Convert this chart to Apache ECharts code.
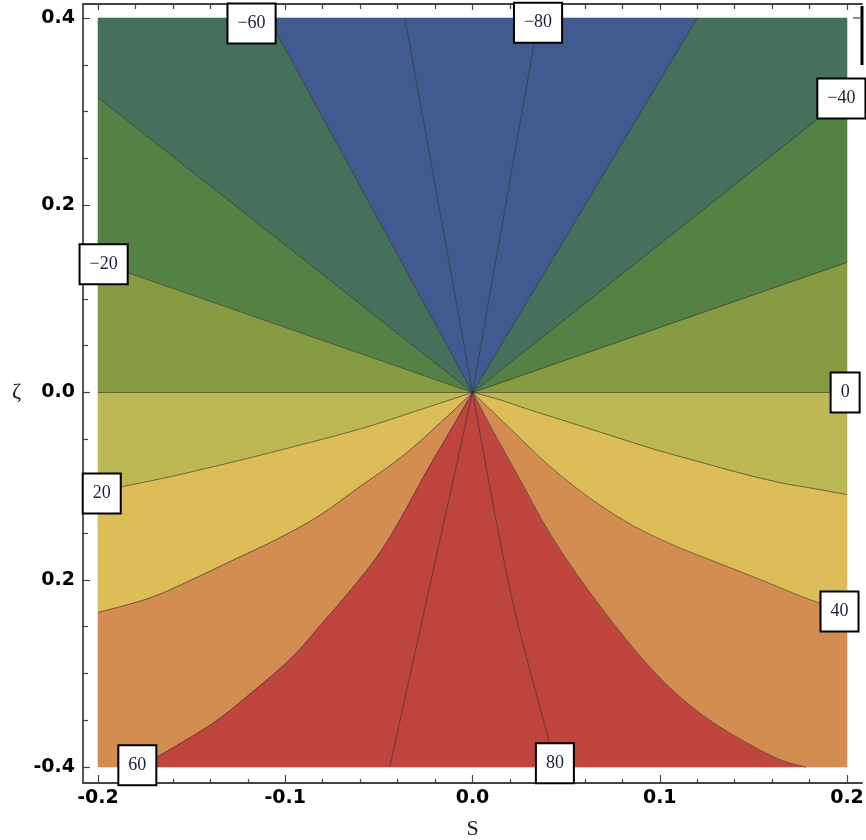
<!DOCTYPE html>
<html>
<head>
<meta charset="utf-8">
<script src="https://cdn.jsdelivr.net/npm/echarts@6/dist/echarts.min.js"></script>
<style>html,body{margin:0;padding:0;background:#fff}#main{width:866px;height:840px}</style>
</head>
<body>
<div id="main"></div>
<script>
// contour branches: origin -> plot edge, [S, zeta]
var lineM80L = [[0,0],[-0.0361,0.4]];
var lineM60L = [[0,0],[-0.109,0.4]];
var lineM40L = [[0,0],[-0.2,0.315]];
var lineM20L = [[0,0],[-0.2,0.139]];
var line0L   = [[0,0],[-0.2,0]];
var line20L  = [[0,0],[-0.0236,-0.0155],[-0.0593,-0.0385],[-0.0949,-0.0575],[-0.1306,-0.0755],[-0.1662,-0.092],[-0.2,-0.1055]];
var line40L  = [[0,0],[-0.0172,-0.0324],[-0.0374,-0.0681],[-0.0599,-0.1002],[-0.0824,-0.1323],[-0.1049,-0.1572],[-0.1274,-0.1786],[-0.1499,-0.2],[-0.1725,-0.2196],[-0.2,-0.235]];
var line60L  = [[0,0],[-0.0125,-0.043],[-0.025,-0.0859],[-0.0397,-0.1394],[-0.0509,-0.1751],[-0.0649,-0.2107],[-0.0802,-0.2463],[-0.0959,-0.282],[-0.1162,-0.3176],[-0.1387,-0.3533],[-0.168,-0.389],[-0.176,-0.4]];
var line80L  = [[0,0],[-0.0442,-0.4]];
var line80R  = [[0,0],[0.02,-0.2107],[0.0402,-0.3676],[0.0435,-0.4]];
var line60R  = [[0,0],[0.0115,-0.043],[0.0234,-0.0859],[0.038,-0.1394],[0.0492,-0.1751],[0.0616,-0.2107],[0.0751,-0.2463],[0.0897,-0.282],[0.1066,-0.3176],[0.1291,-0.3533],[0.1606,-0.389],[0.178,-0.4]];
var line40R  = [[0,0],[0.0188,-0.036],[0.0413,-0.0788],[0.0638,-0.1144],[0.0864,-0.143],[0.1089,-0.1644],[0.1314,-0.1822],[0.1539,-0.2],[0.1805,-0.2214],[0.2,-0.233]];
var line20R  = [[0,0],[0.0143,-0.0075],[0.0301,-0.0182],[0.0526,-0.0324],[0.0751,-0.0467],[0.0976,-0.061],[0.1201,-0.0734],[0.1426,-0.0859],[0.1651,-0.0966],[0.1805,-0.102],[0.2,-0.109]];
var line0R   = [[0,0],[0.2,0]];
var lineM20R = [[0,0],[0.2,0.139]];
var lineM40R = [[0,0],[0.2,0.317]];
var lineM60R = [[0,0],[0.12,0.4]];
var lineM80R = [[0,0],[0.0353,0.4]];

// branches going round counter-clockwise, with the plot corners that fall between them
var ring = [line0R, lineM20R, lineM40R, [[0.2,0.4]], lineM60R, lineM80R, lineM80L, lineM60L, [[-0.2,0.4]],
            lineM40L, lineM20L, line0L, line20L, line40L, [[-0.2,-0.4]], line60L, line80L, line80R, line60R, [[0.2,-0.4]],
            line40R, line20R];

var xTicks = ['-0.2','-0.1','0.0','0.1','0.2'];
var yTicks = ['-0.4','0.2','0.0','0.2','0.4'];

// contour labels: [S, zeta, text]
var contourLabels = [
    [-0.118, 0.394, '\u221260'], [0.035, 0.395, '\u221280'], [0.197, 0.314, '\u221240'],
    [-0.197, 0.137, '\u221220'], [0.199, 0, '0'], [-0.198, -0.108, '20'],
    [0.196, -0.234, '40'], [-0.179, -0.398, '60'], [0.044, -0.396, '80']
];

var olive = '#879b43', green = '#548245', dgreen = '#45705c', blue = '#415b91',
    ygreen = '#bcb853', yellow = '#dcbd57', orange = '#d48d50', red = '#bf453e';
var bandColors = [olive, green, dgreen, blue, blue, blue, dgreen, green, olive,
                  ygreen, yellow, orange, red, red, red, orange, yellow, ygreen];

// pair up neighbouring branches into bands
var bands = [];
var branches = [];
(function () {
    var cur = null, corners = [];
    var items = ring.concat([ring[0]]);
    for (var i = 0; i < items.length; i++) {
        var it = items[i];
        if (it.length === 1) { corners.push(it[0]); continue; }
        if (cur) bands.push({ a: cur, corners: corners, b: it });
        if (i < ring.length) branches.push(it);
        cur = it; corners = [];
    }
})();

// catmull-rom through the read points, as svg path commands
function curveCmds(p) {
    var d = '';
    for (var i = 0; i < p.length - 1; i++) {
        var p0 = p[Math.max(i - 1, 0)], p1 = p[i], p2 = p[i + 1], p3 = p[Math.min(i + 2, p.length - 1)];
        var c1x = p1[0] + (p2[0] - p0[0]) / 6, c1y = p1[1] + (p2[1] - p0[1]) / 6;
        var c2x = p2[0] - (p3[0] - p1[0]) / 6, c2y = p2[1] - (p3[1] - p1[1]) / 6;
        d += ' C' + c1x + ',' + c1y + ' ' + c2x + ',' + c2y + ' ' + p2[0] + ',' + p2[1];
    }
    return d;
}

var chart = echarts.init(document.getElementById('main'));

var tickFont = { fontFamily: 'DejaVu Sans', fontWeight: 'bold', fontSize: 19, color: '#000' };
var frameLine = { show: true, onZero: false, lineStyle: { color: '#444', width: 1.8 } };
var noLine = { show: false, onZero: false };

var series = [{
    type: 'custom',
    xAxisIndex: 0, yAxisIndex: 0,
    silent: true,
    data: bands.map(function (b, i) { return [0, 0, i]; }),
    renderItem: function (params, api) {
        var band = bands[params.dataIndex];
        var a = band.a.map(function (p) { return api.coord(p); });
        var b = band.b.map(function (p) { return api.coord(p); }).reverse();
        var d = 'M' + a[0][0] + ',' + a[0][1] + curveCmds(a);
        band.corners.forEach(function (c) { var q = api.coord(c); d += ' L' + q[0] + ',' + q[1]; });
        d += ' L' + b[0][0] + ',' + b[0][1] + curveCmds(b) + ' Z';
        return { type: 'path', shape: { pathData: d },
                 style: { fill: bandColors[params.dataIndex], stroke: bandColors[params.dataIndex], lineWidth: 0.6 } };
    },
    z: 1
}, {
    type: 'custom',
    xAxisIndex: 0, yAxisIndex: 0,
    silent: true,
    data: branches.map(function (b, i) { return [0, 0, i]; }),
    renderItem: function (params, api) {
        var p = branches[params.dataIndex].map(function (q) { return api.coord(q); });
        return { type: 'path', shape: { pathData: 'M' + p[0][0] + ',' + p[0][1] + curveCmds(p) },
                 style: { fill: null, stroke: 'rgba(40,40,40,0.6)', lineWidth: 1 } };
    },
    z: 2
}];

series.push({
    type: 'scatter', data: contourLabels, symbolSize: 0, silent: true,
    xAxisIndex: 0, yAxisIndex: 0, z: 5,
    itemStyle: { opacity: 1 },
    label: {
        show: true, position: 'inside', opacity: 1,
        formatter: function (p) { return p.value[2]; },
        fontFamily: 'Liberation Serif', fontSize: 18, color: '#1a1f3a',
        backgroundColor: '#fff', borderColor: '#000', borderWidth: 2,
        padding: [10, 9, 10, 9], lineHeight: 18
    }
});

// frame lines (axes only, no data)
series.push({ type: 'line', data: [], xAxisIndex: 2, yAxisIndex: 1 });

chart.setOption({
    backgroundColor: '#fff',
    animation: false,
    grid: [
        { left: 98, right: 19, top: 18, bottom: 73, outerBoundsMode: 'none' },
        { left: 83, right: 4, top: 4, bottom: 57, outerBoundsMode: 'none' }
    ],
    xAxis: [{
        gridIndex: 0, type: 'value', min: -0.2, max: 0.2, interval: 0.1,
        position: 'bottom', offset: 16,
        name: 'S', nameLocation: 'middle', nameGap: 35,
        nameTextStyle: { fontFamily: 'Liberation Serif', fontSize: 22, color: '#222' },
        axisLine: noLine,
        axisTick: { show: true, inside: true, length: 8, lineStyle: { color: '#444', width: 1.2 } },
        minorTick: { show: true, splitNumber: 5, length: 4, lineStyle: { color: '#444', width: 1.2 } },
        splitLine: { show: false },
        axisLabel: Object.assign({ margin: 6, formatter: function (v) { return xTicks[Math.round((v + 0.2) / 0.1)]; } }, tickFont)
    }, {
        gridIndex: 0, type: 'value', min: -0.2, max: 0.2, interval: 0.1,
        position: 'top', offset: 14,
        axisLine: noLine,
        axisTick: { show: true, inside: true, length: 6, lineStyle: { color: '#444', width: 1.2 } },
        minorTick: { show: true, splitNumber: 5, length: 5, lineStyle: { color: '#444', width: 1.2 } },
        splitLine: { show: false },
        axisLabel: { show: false }
    }, {
        gridIndex: 1, type: 'value', min: 0, max: 1, position: 'bottom',
        axisLine: frameLine, axisTick: { show: false }, axisLabel: { show: false }, splitLine: { show: false }
    }, {
        gridIndex: 1, type: 'value', min: 0, max: 1, position: 'top',
        axisLine: frameLine, axisTick: { show: false }, axisLabel: { show: false }, splitLine: { show: false }
    }],
    yAxis: [{
        gridIndex: 0, type: 'value', min: -0.4, max: 0.4, interval: 0.2,
        position: 'left', offset: 16,
        name: '\u03b6', nameLocation: 'middle', nameGap: 61, nameRotate: 0,
        nameTextStyle: { fontFamily: 'Liberation Serif', fontSize: 22, color: '#222' },
        axisLine: noLine,
        axisTick: { show: true, inside: true, length: 8, lineStyle: { color: '#444', width: 1.2 } },
        minorTick: { show: true, splitNumber: 4, length: 6, lineStyle: { color: '#444', width: 1.2 } },
        splitLine: { show: false },
        axisLabel: Object.assign({ margin: 7, formatter: function (v) { return yTicks[Math.round((v + 0.4) / 0.2)]; } }, tickFont)
    }, {
        gridIndex: 1, type: 'value', min: 0, max: 1, position: 'left',
        axisLine: frameLine, axisTick: { show: false }, axisLabel: { show: false }, splitLine: { show: false }
    }],
    graphic: [{
        type: 'line', shape: { x1: 862, y1: 6, x2: 862, y2: 65 },
        style: { stroke: '#000', lineWidth: 3 }
    }, {
        type: 'line', shape: { x1: 853, y1: 18, x2: 862, y2: 18 },
        style: { stroke: '#444', lineWidth: 1.2 }
    }],
    series: series
});
</script>
</body>
</html>
